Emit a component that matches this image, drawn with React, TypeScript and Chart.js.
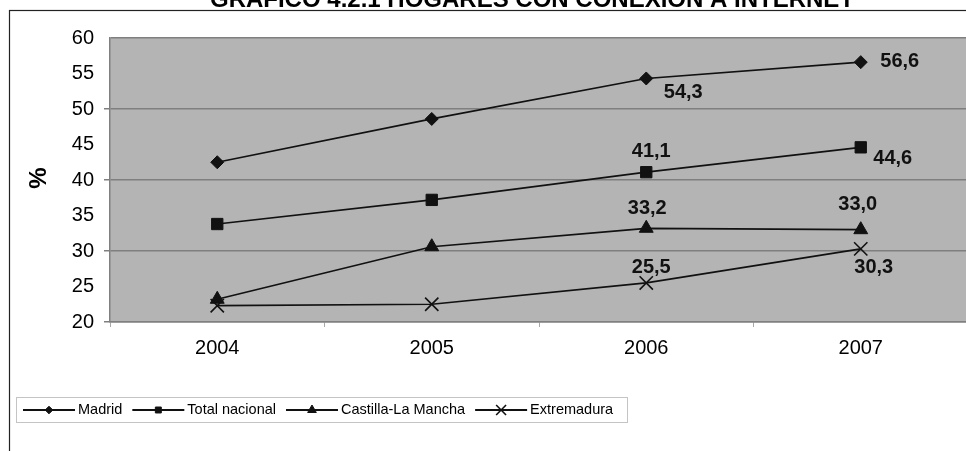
import React, { useEffect, useRef } from 'react';
import { Chart, registerables } from 'chart.js';
import { drawPoint } from 'chart.js/helpers';
Chart.register(...registerables);

// ---- data ----
const years = ['2004', '2005', '2006', '2007'];
const madrid = [42.5, 48.6, 54.3, 56.6];
const totalNacional = [33.8, 37.2, 41.1, 44.6];
const castillaLaMancha = [23.2, 30.6, 33.2, 33.0];
const extremadura = [22.3, 22.5, 25.5, 30.3];
const seriesNames = ['Madrid', 'Total nacional', 'Castilla-La Mancha', 'Extremadura'];
const yMin = 20;
const yMax = 60;
const yStep = 5;
const titleText = 'GRÁFICO 4.2.1 HOGARES CON CONEXIÓN A INTERNET';
const yAxisTitle = '%';
const labelledIndices = [2, 3];

// ---- styles ----
const FONT = '"Liberation Sans", Arial, sans-serif';
const INK = '#111111';
const markerStyles = [
  { pointStyle: 'rectRot', radius: 6.5, legendRadius: 3.8, borderWidth: 1 },
  { pointStyle: 'rect', radius: 8, legendRadius: 4.2, borderWidth: 1 },
  { pointStyle: 'triangle', radius: 8, legendRadius: 5, borderWidth: 1 },
  { pointStyle: 'crossRot', radius: 9.4, legendRadius: 7, borderWidth: 1.6 },
];
// label offsets (dx, dy) relative to the point, per series, per labelled index
const labelOffsets = [
  [[37, 14], [39, -1]],
  [[5, -21], [32, 11]],
  [[1, -20], [-3, -25]],
  [[5, -15], [13, 19]],
];

const fmt = (v: number) => v.toFixed(1).replace('.', ',');

const decorPlugin = {
  id: 'decor',
  beforeDraw(chart: any) {
    const { ctx, chartArea: a } = chart;
    ctx.save();
    ctx.fillStyle = '#b4b4b4';
    ctx.fillRect(a.left, a.top, a.right - a.left, a.bottom - a.top);
    ctx.restore();
  },
  afterDatasetsDraw(chart: any) {
    const { ctx } = chart;
    ctx.save();
    ctx.fillStyle = INK;
    ctx.font = `bold 20px ${FONT}`;
    ctx.textAlign = 'center';
    ctx.textBaseline = 'middle';
    chart.data.datasets.forEach((ds: any, di: number) => {
      const meta = chart.getDatasetMeta(di);
      labelledIndices.forEach((idx, k) => {
        const pt = meta.data[idx];
        const [dx, dy] = labelOffsets[di][k];
        ctx.fillText(fmt(ds.data[idx]), pt.x + dx, pt.y + dy);
      });
    });
    ctx.restore();
  },
  afterDraw(chart: any) {
    const { ctx } = chart;
    ctx.save();
    // outer frame
    ctx.strokeStyle = '#222222';
    ctx.lineWidth = 1.2;
    ctx.strokeRect(9.5, 10.5, 1200, 1000);
    // title (cut at top)
    ctx.fillStyle = '#000';
    ctx.font = `bold 24px ${FONT}`;
    ctx.textAlign = 'center';
    ctx.textBaseline = 'alphabetic';
    ctx.fillText(titleText, 532, 6.5);
    // y axis title
    ctx.save();
    ctx.translate(39, 178);
    ctx.rotate(-Math.PI / 2);
    ctx.font = `bold 24px ${FONT}`;
    ctx.textBaseline = 'middle';
    ctx.fillText(yAxisTitle, 0, 0);
    ctx.restore();
    // legend
    ctx.strokeStyle = '#c4c4c4';
    ctx.lineWidth = 1;
    ctx.strokeRect(16.5, 397.5, 611, 25);
    ctx.font = `14.5px ${FONT}`;
    ctx.textAlign = 'left';
    ctx.textBaseline = 'middle';
    let x = 23;
    const cy = 410;
    chart.data.datasets.forEach((ds: any, i: number) => {
      const m = markerStyles[i];
      ctx.strokeStyle = INK;
      ctx.fillStyle = INK;
      ctx.lineWidth = 2;
      ctx.beginPath();
      ctx.moveTo(x, cy);
      ctx.lineTo(x + 52, cy);
      ctx.stroke();
      ctx.lineWidth = m.borderWidth;
      drawPoint(ctx, { pointStyle: m.pointStyle, radius: m.legendRadius, rotation: 0, borderWidth: m.borderWidth } as any, x + 26, cy);
      ctx.fillStyle = '#000';
      ctx.fillText(ds.label, x + 55, cy);
      x += 55 + ctx.measureText(ds.label).width + 10;
    });
    ctx.restore();
  },
};

export default function App() {
  const ref = useRef<HTMLCanvasElement | null>(null);
  useEffect(() => {
    if (!ref.current) return;
    const series = [madrid, totalNacional, castillaLaMancha, extremadura];
    const chart = new Chart(ref.current, {
      type: 'line',
      data: {
        labels: years,
        datasets: series.map((d, i) => ({
          label: seriesNames[i],
          data: d,
          borderColor: INK,
          borderWidth: 1.7,
          backgroundColor: INK,
          pointBackgroundColor: INK,
          pointBorderColor: INK,
          pointStyle: markerStyles[i].pointStyle as any,
          pointRadius: markerStyles[i].radius,
          pointBorderWidth: markerStyles[i].borderWidth,
          tension: 0,
          fill: false,
        })),
      },
      options: {
        animation: false,
        responsive: false,
        events: [],
        layout: { padding: { left: 0, right: 12, top: 38, bottom: 89 } },
        plugins: { legend: { display: false }, tooltip: { enabled: false }, title: { display: false } },
        scales: {
          x: {
            type: 'category',
            offset: true,
            grid: { offset: true, drawOnChartArea: false, drawTicks: true, tickLength: 5, tickColor: '#a8a8a8' },
            border: { display: true, color: '#808080', width: 1.5 },
            ticks: { color: '#000', font: { family: FONT, size: 20 }, padding: 9, maxRotation: 0 },
            afterFit: (s: any) => { s.height = 40; },
          },
          y: {
            min: yMin,
            max: yMax,
            ticks: { stepSize: yStep, color: '#000', font: { family: FONT, size: 20 }, padding: 10 },
            grid: {
              color: (c: any) => (c.tick && c.tick.value % 10 === 0 ? '#7f7f7f' : 'transparent'),
              tickColor: (c: any) => (c.tick && c.tick.value % 10 === 0 && c.tick.value < yMax ? '#7f7f7f' : 'transparent'),
              tickLength: 6,
              lineWidth: 1.5,
            },
            border: { display: true, color: '#808080', width: 1.5 },
            afterFit: (s: any) => { s.width = 110; },
          },
        },
      },
      plugins: [decorPlugin],
    });
    return () => chart.destroy();
  }, []);
  return (
    <div style={{ position: 'fixed', left: 0, top: 0, width: 966, height: 451, overflow: 'hidden', background: '#fff' }}>
      <canvas ref={ref} width={980} height={451} style={{ display: 'block' }} />
    </div>
  );
}
